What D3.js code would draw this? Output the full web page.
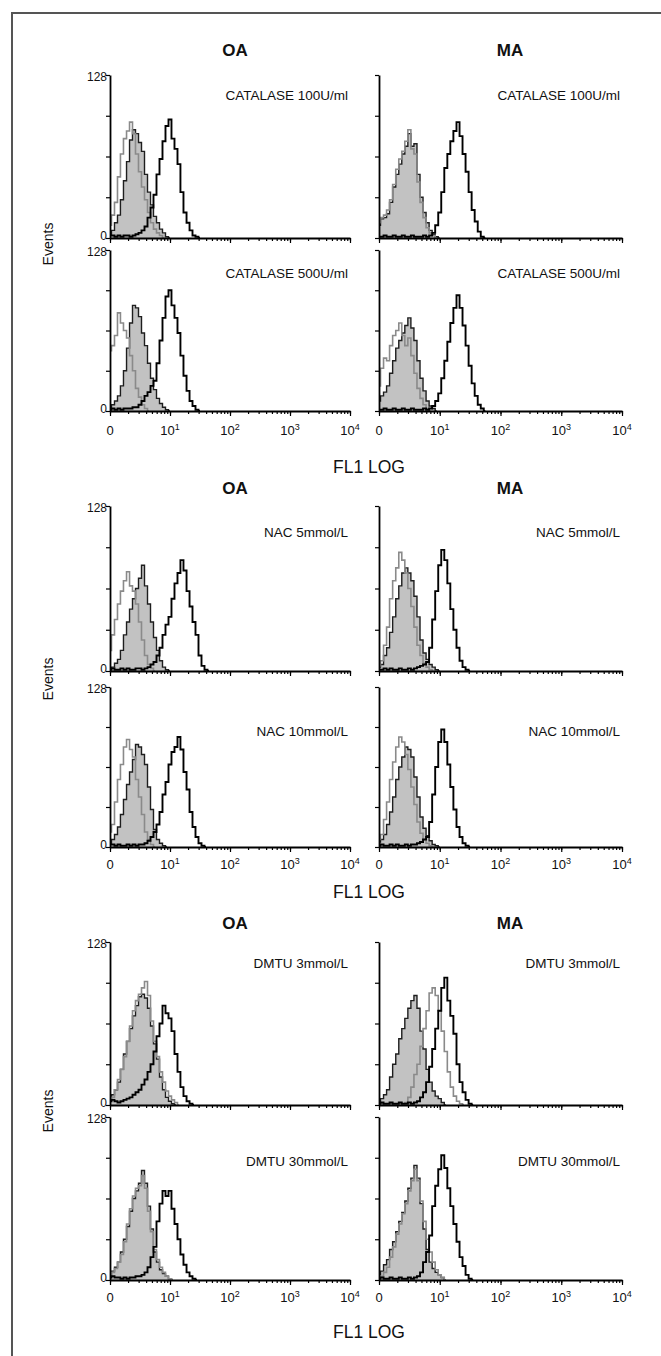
<!DOCTYPE html>
<html>
<head>
<meta charset="utf-8">
<script src="https://cdn.jsdelivr.net/npm/d3@7"></script>
<style>
  body { margin: 0; background: #fff; }
  svg text { font-family: "Liberation Sans", Arial, sans-serif; fill: #111; }
</style>
</head>
<body>
<div id="chart"></div>
<script>
// FL1 channels (log fluorescence), 0.05 decade apart
var fl1Channels = [1, 1.12, 1.26, 1.41, 1.58, 1.78, 2, 2.24, 2.51, 2.82, 3.16, 3.55, 3.98, 4.47, 5.01, 5.62, 6.31, 7.08, 7.94, 8.91,
    10, 11.2, 12.6, 14.1, 15.8, 17.8, 20, 22.4, 25.1, 28.2, 31.6, 35.5, 39.8, 44.7, 50.1, 56.2, 63.1];

var cellLines = ["OA", "MA"];
var treatments = ["CATALASE 100U/ml", "CATALASE 500U/ml", "NAC 5mmol/L", "NAC 10mmol/L", "DMTU 3mmol/L", "DMTU 30mmol/L"];
var yTickValues = [0, 32, 64, 96, 128];
var yTickLabels = [0, 128];
var xTickValues = [1, 10, 100, 1000, 10000];
var xTickBase = ["0", "10", "10", "10", "10"];
var xTickExp = ["", "1", "2", "3", "4"];
var axisTitle = "FL1 LOG";
var yTitle = "Events";

// events per channel: shaded histogram, grey line, black line
var oaCat100Shaded = [3, 6, 12, 18, 30, 45, 60, 77, 85, 82, 75, 68, 50, 36, 26, 17, 12, 7, 4, 1, 0];
var oaCat100Grey = [10, 18, 28, 48, 66, 78, 84, 91, 82, 66, 52, 40, 30, 20, 12, 7, 4, 2, 0];
var oaCat100Black = [2, 2, 1, 2, 1, 2, 2, 1, 2, 3, 4, 6, 9, 16, 24, 34, 50, 62, 76, 88, 93, 78, 70, 58, 36, 20, 12, 6, 2, 1, 0];

var oaCat500Shaded = [3, 5, 8, 12, 20, 32, 50, 70, 84, 82, 75, 62, 52, 38, 26, 17, 10, 6, 3, 1, 0];
var oaCat500Grey = [48, 52, 60, 78, 70, 64, 58, 44, 32, 18, 11, 5, 2, 0];
var oaCat500Black = [1, 2, 1, 2, 1, 2, 2, 2, 3, 3, 5, 8, 12, 15, 20, 24, 38, 56, 74, 91, 96, 84, 74, 62, 44, 28, 16, 8, 4, 1, 0];

var maCat100Shaded = [10, 15, 16, 19, 28, 40, 50, 58, 66, 72, 82, 72, 74, 50, 32, 20, 12, 6, 3, 1, 0];
var maCat100Grey = [12, 16, 18, 22, 30, 42, 54, 62, 68, 76, 85, 70, 66, 44, 28, 16, 8, 4, 2, 0];
var maCat100Black = [1, 1, 2, 1, 1, 2, 1, 1, 2, 1, 1, 2, 1, 1, 1, 2, 1, 2, 4, 10, 20, 36, 55, 66, 76, 84, 91, 80, 66, 52, 36, 22, 13, 5, 1, 0];

var maCat500Shaded = [8, 12, 15, 20, 30, 40, 50, 56, 62, 68, 74, 66, 56, 40, 26, 16, 8, 4, 2, 0];
var maCat500Grey = [20, 34, 42, 40, 52, 60, 64, 70, 60, 52, 58, 44, 30, 18, 10, 5, 2, 0];
var maCat500Black = [1, 1, 2, 1, 1, 2, 1, 1, 2, 1, 1, 2, 1, 1, 1, 2, 1, 2, 4, 8, 14, 26, 40, 55, 70, 82, 92, 82, 68, 52, 36, 22, 12, 5, 2, 0];

var oaNac5Shaded = [2, 3, 6, 9, 16, 28, 38, 48, 56, 64, 72, 82, 66, 52, 38, 26, 16, 8, 3, 1, 0];
var oaNac5Grey = [16, 28, 40, 52, 62, 70, 77, 66, 62, 52, 38, 24, 12, 5, 2, 0];
var oaNac5Black = [1, 2, 1, 1, 2, 1, 2, 1, 1, 2, 2, 1, 2, 3, 5, 7, 12, 18, 28, 36, 42, 56, 68, 76, 86, 78, 62, 50, 38, 28, 12, 4, 1, 0];

var oaNac10Shaded = [3, 6, 10, 16, 26, 38, 50, 60, 70, 82, 80, 74, 66, 48, 30, 14, 6, 3, 1, 0];
var oaNac10Grey = [12, 18, 36, 54, 66, 80, 86, 78, 72, 54, 40, 26, 12, 6, 2, 0];
var oaNac10Black = [2, 2, 1, 2, 1, 1, 2, 1, 2, 1, 2, 2, 3, 5, 8, 12, 18, 28, 42, 52, 66, 76, 80, 88, 78, 60, 46, 28, 16, 8, 3, 1, 0];

var maNac5Shaded = [3, 5, 12, 18, 30, 42, 56, 66, 76, 80, 76, 70, 58, 42, 24, 14, 9, 5, 3, 1, 0];
var maNac5Grey = [4, 8, 20, 34, 56, 70, 80, 92, 86, 76, 64, 50, 34, 20, 12, 6, 3, 1, 0];
var maNac5Black = [1, 1, 2, 1, 2, 1, 1, 2, 1, 1, 2, 1, 2, 3, 4, 5, 7, 18, 40, 62, 82, 94, 86, 68, 48, 32, 18, 8, 3, 1, 0];

var maNac10Shaded = [4, 6, 10, 18, 28, 40, 54, 64, 72, 80, 78, 72, 56, 40, 24, 15, 9, 5, 2, 1, 0];
var maNac10Grey = [6, 10, 22, 36, 54, 68, 80, 88, 84, 74, 62, 48, 34, 20, 11, 6, 3, 1, 0];
var maNac10Black = [1, 2, 1, 1, 2, 1, 2, 1, 1, 2, 1, 2, 2, 3, 4, 6, 8, 20, 42, 64, 84, 94, 84, 66, 48, 30, 16, 8, 3, 1, 0];

var oaDmtu3Shaded = [4, 8, 12, 18, 28, 40, 50, 60, 70, 78, 85, 87, 84, 76, 62, 48, 36, 22, 12, 6, 3, 1, 0];
var oaDmtu3Grey = [3, 6, 12, 20, 28, 38, 50, 62, 74, 82, 87, 92, 97, 86, 66, 50, 38, 26, 18, 11, 7, 4, 2, 0];
var oaDmtu3Black = [3, 4, 3, 2, 3, 4, 5, 6, 8, 10, 12, 16, 20, 26, 32, 42, 54, 64, 78, 72, 68, 58, 40, 26, 14, 7, 3, 1, 0];

var oaDmtu30Shaded = [4, 7, 10, 14, 22, 32, 42, 54, 64, 70, 76, 86, 76, 58, 40, 22, 14, 8, 5, 3, 1, 0];
var oaDmtu30Grey = [3, 6, 9, 14, 20, 30, 44, 56, 66, 72, 74, 82, 72, 54, 38, 24, 16, 10, 6, 3, 1, 0];
var oaDmtu30Black = [2, 3, 2, 2, 1, 2, 1, 2, 2, 3, 3, 4, 6, 10, 18, 26, 46, 60, 70, 66, 70, 56, 44, 32, 20, 12, 6, 3, 1, 0];

var maDmtu3Shaded = [3, 5, 8, 12, 22, 32, 40, 52, 60, 68, 76, 82, 86, 76, 58, 44, 28, 18, 11, 7, 5, 2, 0];
var maDmtu3Grey = [1, 1, 0, 1, 1, 0, 1, 1, 1, 2, 6, 14, 24, 32, 46, 60, 74, 88, 92, 86, 74, 58, 42, 26, 14, 7, 3, 1, 0];
var maDmtu3Black = [1, 2, 1, 1, 2, 1, 1, 2, 1, 1, 2, 1, 2, 3, 6, 10, 18, 30, 44, 60, 74, 92, 100, 82, 70, 56, 32, 18, 10, 4, 1, 0];

var maDmtu30Shaded = [4, 7, 12, 16, 24, 30, 38, 46, 53, 62, 72, 80, 90, 80, 60, 40, 24, 14, 9, 6, 4, 2, 0];
var maDmtu30Grey = [2, 3, 6, 10, 18, 26, 36, 44, 52, 60, 70, 78, 87, 78, 62, 46, 32, 22, 14, 8, 4, 2, 0];
var maDmtu30Black = [1, 2, 1, 1, 2, 1, 1, 2, 1, 1, 2, 1, 2, 3, 6, 14, 22, 35, 58, 74, 87, 98, 88, 72, 58, 44, 30, 18, 11, 4, 1, 0];

// panel table: group, column (cell line), row
var panels = [
    { g: 0, c: 0, r: 0, label: treatments[0], shaded: oaCat100Shaded, grey: oaCat100Grey, black: oaCat100Black },
    { g: 0, c: 0, r: 1, label: treatments[1], shaded: oaCat500Shaded, grey: oaCat500Grey, black: oaCat500Black },
    { g: 0, c: 1, r: 0, label: treatments[0], shaded: maCat100Shaded, grey: maCat100Grey, black: maCat100Black },
    { g: 0, c: 1, r: 1, label: treatments[1], shaded: maCat500Shaded, grey: maCat500Grey, black: maCat500Black },
    { g: 1, c: 0, r: 0, label: treatments[2], shaded: oaNac5Shaded, grey: oaNac5Grey, black: oaNac5Black },
    { g: 1, c: 0, r: 1, label: treatments[3], shaded: oaNac10Shaded, grey: oaNac10Grey, black: oaNac10Black },
    { g: 1, c: 1, r: 0, label: treatments[2], shaded: maNac5Shaded, grey: maNac5Grey, black: maNac5Black },
    { g: 1, c: 1, r: 1, label: treatments[3], shaded: maNac10Shaded, grey: maNac10Grey, black: maNac10Black },
    { g: 2, c: 0, r: 0, label: treatments[4], shaded: oaDmtu3Shaded, grey: oaDmtu3Grey, black: oaDmtu3Black },
    { g: 2, c: 0, r: 1, label: treatments[5], shaded: oaDmtu30Shaded, grey: oaDmtu30Grey, black: oaDmtu30Black },
    { g: 2, c: 1, r: 0, label: treatments[4], shaded: maDmtu3Shaded, grey: maDmtu3Grey, black: maDmtu3Black },
    { g: 2, c: 1, r: 1, label: treatments[5], shaded: maDmtu30Shaded, grey: maDmtu30Grey, black: maDmtu30Black }
];

// layout
var groups = [
    { title: 50, rows: [[75, 238], [250, 411]], ticks: 430, axisTitle: 467, events: 244, labelOff: [20, 23] },
    { title: 488, rows: [[506, 671], [687, 847]], ticks: 864, axisTitle: 892, events: 679, labelOff: [26, 44] },
    { title: 923, rows: [[942, 1105], [1117, 1280]], ticks: 1297, axisTitle: 1332, events: 1111, labelOff: [21, 44] }
];
var cols = [{ x0: 110, x1: 350, titleX: 235 }, { x0: 379, x1: 622, titleX: 510 }];

var W = 661, H = 1356;
var svg = d3.select("#chart").append("svg")
    .attr("width", W)
    .attr("height", H);

// outer frame (only top and left edges are visible in the crop)
svg.append("path")
    .attr("d", "M12," + H + "V13H" + W)
    .style("fill", "none")
    .style("stroke", "#555")
    .style("stroke-width", 2);

groups.forEach(function (grp) {
    cols.forEach(function (col, ci) {
        svg.append("text")
            .attr("x", col.titleX)
            .attr("y", grp.title + 6)
            .attr("text-anchor", "middle")
            .style("font-size", "17px")
            .style("font-weight", "bold")
            .text(cellLines[ci]);
    });
    svg.append("text")
        .attr("x", 369)
        .attr("y", grp.axisTitle + 6)
        .attr("text-anchor", "middle")
        .style("font-size", "17.5px")
        .text(axisTitle);
    svg.append("text")
        .attr("transform", "translate(53," + grp.events + ") rotate(-90)")
        .attr("text-anchor", "middle")
        .style("font-size", "14px")
        .text(yTitle);
});

panels.forEach(function (p) {
    var grp = groups[p.g], col = cols[p.c];
    var top = grp.rows[p.r][0], bottom = grp.rows[p.r][1];

    var x = d3.scaleLog().domain([1, 10000]).range([col.x0, col.x1]);
    var y = d3.scaleLinear().domain([0, 128]).range([bottom, top]);

    var g = svg.append("g");

    function pts(arr) {
        return arr.map(function (v, i) { return [fl1Channels[i], v]; });
    }

    var area = d3.area()
        .x(function (d) { return x(d[0]); })
        .y0(y(0))
        .y1(function (d) { return y(d[1]); })
        .curve(d3.curveStep);
    var line = d3.line()
        .x(function (d) { return x(d[0]); })
        .y(function (d) { return y(d[1]); })
        .curve(d3.curveStep);

    g.append("path")
        .datum(pts(p.shaded))
        .attr("d", area)
        .style("fill", "#c2c2c2")
        .style("stroke", "none");
    g.append("path")
        .datum(pts(p.shaded))
        .attr("d", line)
        .style("fill", "none")
        .style("stroke", "#1e1e1e")
        .style("stroke-width", 1.4);
    g.append("path")
        .datum(pts(p.grey))
        .attr("d", line)
        .style("fill", "none")
        .style("stroke", "#8a8a8a")
        .style("stroke-width", 1.6);
    g.append("path")
        .datum(pts(p.black))
        .attr("d", line)
        .style("fill", "none")
        .style("stroke", "#000")
        .style("stroke-width", 1.9);

    // treatment label
    g.append("text")
        .attr("x", col.x1 - 2)
        .attr("y", top + grp.labelOff[p.r] + 4.5)
        .attr("text-anchor", "end")
        .style("font-size", "13.5px")
        .text(p.label);

    // x axis: minor log ticks + decade ticks
    var xMinor = g.append("g")
        .attr("transform", "translate(0," + bottom + ")")
        .call(d3.axisBottom(x).tickValues(x.ticks()).tickSize(3).tickSizeOuter(0).tickFormat(""));
    xMinor.select(".domain").style("stroke-width", 1.8);
    g.append("g")
        .attr("transform", "translate(0," + bottom + ")")
        .call(d3.axisBottom(x).tickValues(xTickValues).tickSize(5).tickSizeOuter(0).tickFormat(""))
        .select(".domain").remove();
    g.selectAll(".tick line").style("stroke-width", 1.2);

    if (p.r === 1) {
        xTickValues.forEach(function (v, i) {
            var t = g.append("text")
                .attr("x", x(v))
                .attr("y", grp.ticks + 5)
                .attr("text-anchor", "middle")
                .style("font-size", "13px");
            t.append("tspan").text(xTickBase[i]);
            if (xTickExp[i]) t.append("tspan").attr("dy", -5).style("font-size", "9px").text(xTickExp[i]);
        });
    }

    // y axis
    var ya = g.append("g")
        .attr("transform", "translate(" + col.x0 + ",0)")
        .call(d3.axisLeft(y).tickValues(yTickValues).tickSize(4).tickSizeOuter(0)
            .tickFormat(function (d) { return (p.c === 0 && yTickLabels.indexOf(d) >= 0) ? d : ""; }));
    ya.select(".domain").style("stroke-width", 1.8);
    ya.selectAll(".tick line").style("stroke-width", 1.2);
    ya.selectAll(".tick text")
        .attr("x", -3)
        .attr("dy", function (d) { return d === 0 ? "0.12em" : (d === 128 ? "0.45em" : "0.32em"); })
        .style("font-size", "12px")
        .style("font-family", "'Liberation Sans', Arial, sans-serif");
});
</script>
</body>
</html>
